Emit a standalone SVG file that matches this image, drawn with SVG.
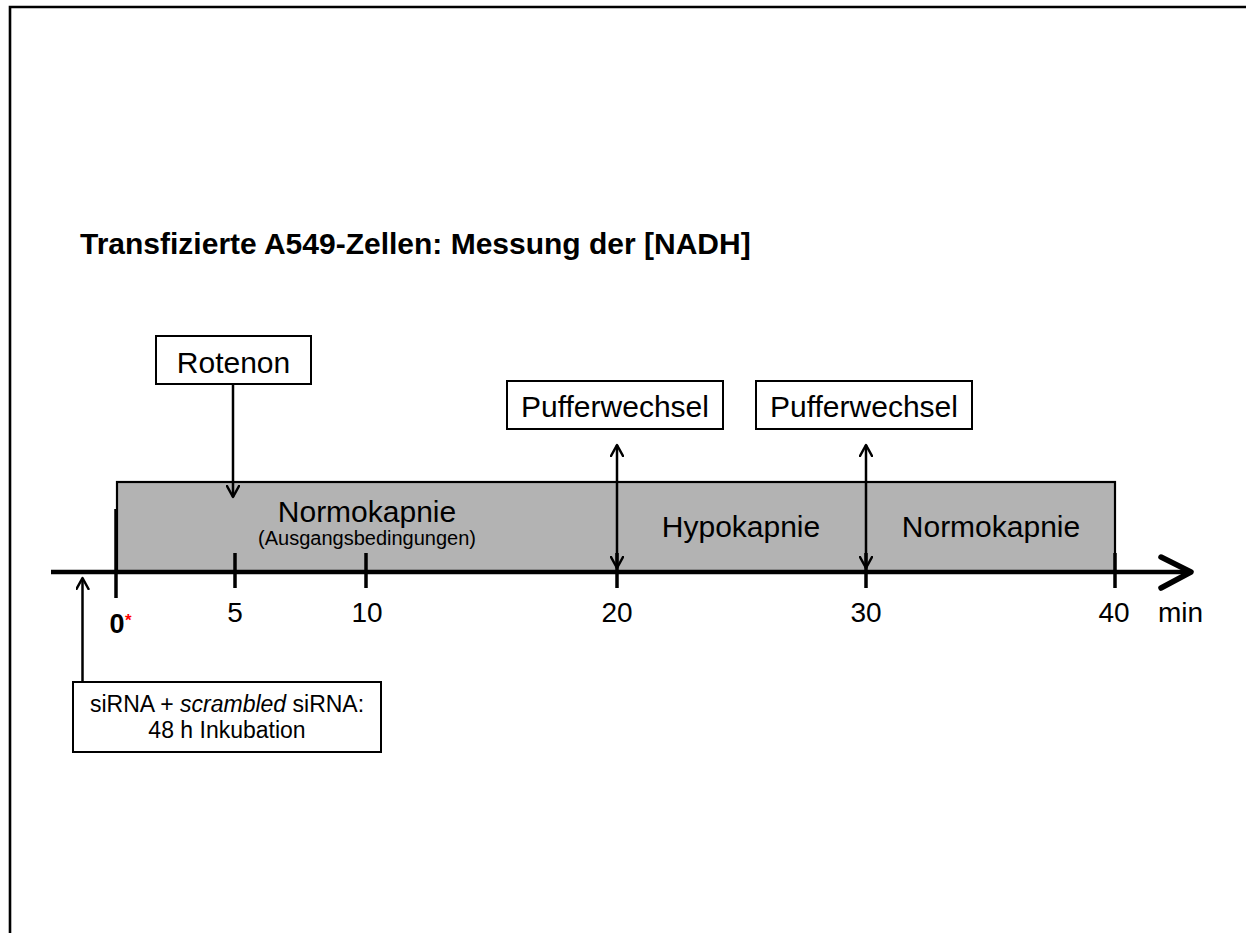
<svg xmlns="http://www.w3.org/2000/svg" width="1246" height="933" viewBox="0 0 1246 933">
<style>
  text { font-family: "Liberation Sans", Arial, sans-serif; fill: #000; }
  .lbl { font-size: 30px; }
  .ax { font-size: 28px; }
  .box { fill: #fff; stroke: #000; stroke-width: 2; }
  .conn { stroke: #000; stroke-width: 2.5; fill: none; }
  .tick { stroke: #000; stroke-width: 3.5; }
</style>
<defs>
  <marker id="open" viewBox="0 0 14 14" refX="12" refY="7" markerWidth="14" markerHeight="14" markerUnits="userSpaceOnUse" orient="auto-start-reverse">
    <path d="M1,1 L12,7 L1,13" fill="none" stroke="#000" stroke-width="2.5" stroke-linecap="round" stroke-linejoin="round"/>
  </marker>
</defs>
<rect width="1246" height="933" fill="#fff"/>
<path d="M10,933 V7 H1246" fill="none" stroke="#000" stroke-width="2.6"/>

<text x="80" y="254" font-size="30" font-weight="bold">Transfizierte A549-Zellen: Messung der [NADH]</text>

<g id="phases">
  <rect x="117" y="482" width="998" height="90" fill="#b3b3b3" stroke="#000" stroke-width="2.2"/>
  <text class="lbl" x="367" y="522" text-anchor="middle">Normokapnie</text>
  <text x="367" y="545" font-size="20" text-anchor="middle">(Ausgangsbedingungen)</text>
  <text class="lbl" x="741" y="537" text-anchor="middle">Hypokapnie</text>
  <text class="lbl" x="991" y="537" text-anchor="middle">Normokapnie</text>
</g>

<g id="axis">
  <line x1="51" y1="572" x2="1188" y2="572" stroke="#000" stroke-width="4.5"/>
  <path d="M1161,557 L1191,572 L1161,588" fill="none" stroke="#000" stroke-width="5.5" stroke-linecap="round" stroke-linejoin="round"/>
  <line class="tick" x1="116" y1="509" x2="116" y2="598" stroke-width="4.2"/>
  <line class="tick" x1="235" y1="553" x2="235" y2="588"/>
  <line class="tick" x1="366" y1="553" x2="366" y2="588"/>
  <line class="tick" x1="617" y1="553" x2="617" y2="588"/>
  <line class="tick" x1="866" y1="553" x2="866" y2="588"/>
  <line class="tick" x1="1115" y1="553" x2="1115" y2="588"/>
  <text x="117" y="633" font-size="27" font-weight="bold" text-anchor="middle">0</text>
  <text x="125" y="626" font-size="17" font-weight="bold" fill="#ff0000" style="fill:#ff0000">*</text>
  <text class="ax" x="235" y="622" text-anchor="middle">5</text>
  <text class="ax" x="367" y="622" text-anchor="middle">10</text>
  <text class="ax" x="617" y="622" text-anchor="middle">20</text>
  <text class="ax" x="866" y="622" text-anchor="middle">30</text>
  <text class="ax" x="1114" y="622" text-anchor="middle">40</text>
  <text class="ax" x="1158" y="622">min</text>
</g>

<g id="rotenon">
  <rect class="box" x="156" y="336" width="155" height="48"/>
  <text class="lbl" x="233.5" y="373" text-anchor="middle">Rotenon</text>
</g>

<g id="puffer1">
  <rect class="box" x="507" y="381" width="216" height="48"/>
  <text class="lbl" x="615" y="417" text-anchor="middle">Pufferwechsel</text>
</g>

<g id="puffer2">
  <rect class="box" x="756" y="381" width="216" height="48"/>
  <text class="lbl" x="864" y="417" text-anchor="middle">Pufferwechsel</text>
</g>

<g id="sirna">
  <rect class="box" x="73" y="682" width="308" height="70"/>
  <text x="227" y="712" font-size="23" text-anchor="middle">siRNA + <tspan font-style="italic">scrambled</tspan> siRNA:</text>
  <text x="227" y="738" font-size="23" text-anchor="middle">48 h Inkubation</text>
</g>

<g id="connectors">
  <line class="conn" x1="233" y1="384" x2="233" y2="497" marker-end="url(#open)"/>
  <line class="conn" x1="617" y1="445" x2="617" y2="568" marker-start="url(#open)" marker-end="url(#open)"/>
  <line class="conn" x1="866" y1="445" x2="866" y2="568" marker-start="url(#open)" marker-end="url(#open)"/>
  <line class="conn" x1="82.5" y1="682" x2="82.5" y2="578" marker-end="url(#open)"/>
</g>
</svg>
